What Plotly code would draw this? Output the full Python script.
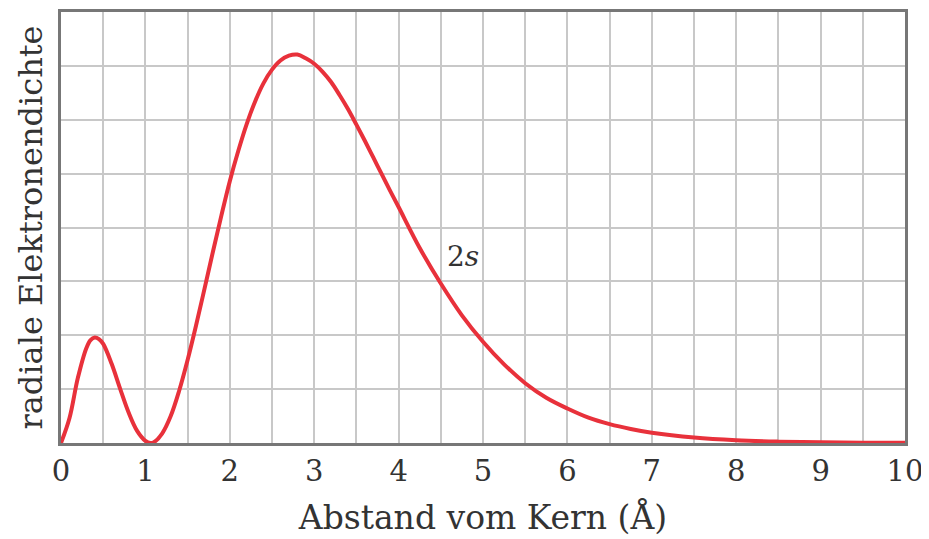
import plotly.graph_objects as go

# Radial electron density of 2s orbital (grid units)
r_values = [0, 0.1, 0.2, 0.3, 0.35, 0.4, 0.45, 0.5, 0.6, 0.7, 0.8, 0.9, 1.0, 1.06, 1.1, 1.2, 1.3, 1.4,
            1.5, 1.6, 1.7, 1.8, 1.9, 2.0, 2.1, 2.2, 2.3, 2.4, 2.5, 2.6, 2.7, 2.8, 2.9, 3.0,
            3.1, 3.2, 3.3, 3.4, 3.5, 3.6, 3.7, 3.8, 3.9, 4.0, 4.25, 4.5, 4.75, 5.0, 5.25,
            5.5, 5.75, 6.0, 6.25, 6.5, 6.75, 7.0, 7.5, 8.0, 8.5, 9.0, 9.5, 10.0]
density = [0, 0.46, 1.21, 1.76, 1.91, 1.96, 1.93, 1.84, 1.47, 1.01, 0.57, 0.23, 0.04, 0.0, 0.014, 0.18, 0.50, 0.97,
           1.54, 2.18, 2.86, 3.55, 4.22, 4.86, 5.42, 5.92, 6.34, 6.68, 6.93, 7.10, 7.19, 7.21, 7.14, 7.04,
           6.89, 6.70, 6.46, 6.20, 5.91, 5.61, 5.30, 4.99, 4.68, 4.38, 3.62, 2.96, 2.37, 1.88, 1.46,
           1.11, 0.84, 0.64, 0.47, 0.35, 0.26, 0.19, 0.10, 0.05, 0.025, 0.012, 0.006, 0.003]

x_tick_vals = [i * 0.5 for i in range(21)]
x_tick_text = [str(int(v)) if v == int(v) else "" for v in x_tick_vals]

font_family = "DejaVu Serif"

fig = go.Figure()
fig.add_trace(go.Scatter(
    x=r_values, y=density, mode="lines",
    line=dict(color="#e8313b", width=4, shape="spline", smoothing=1.0),
    hoverinfo="skip", showlegend=False,
))

fig.add_annotation(x=4.76, y=3.47, text="2<i>s</i>", showarrow=False,
                   font=dict(family=font_family, size=28, color="#333333"))

fig.update_layout(
    width=929, height=539,
    margin=dict(l=53, r=32, t=1, b=104),
    paper_bgcolor="white", plot_bgcolor="white",
    font=dict(family=font_family, color="#333333"),
    xaxis=dict(
        range=[0, 10], tickvals=x_tick_vals, ticktext=x_tick_text,
        showgrid=True, gridcolor="#c8c8c8", gridwidth=1.5,
        showline=True, linecolor="#777777", linewidth=3, mirror=True,
        ticks="", tickfont=dict(size=29, color="#333333"), zeroline=False,
        title=dict(text="Abstand vom Kern (Å)", font=dict(size=33, color="#333333"), standoff=20),
    ),
    yaxis=dict(
        range=[0, 8], dtick=1, showticklabels=False,
        showgrid=True, gridcolor="#c8c8c8", gridwidth=1.5,
        showline=True, linecolor="#777777", linewidth=3, mirror=True,
        ticks="", zeroline=False,
        title=dict(text="radiale Elektronendichte", font=dict(size=32, color="#333333"), standoff=6),
    ),
)

fig.write_html("out.html")
